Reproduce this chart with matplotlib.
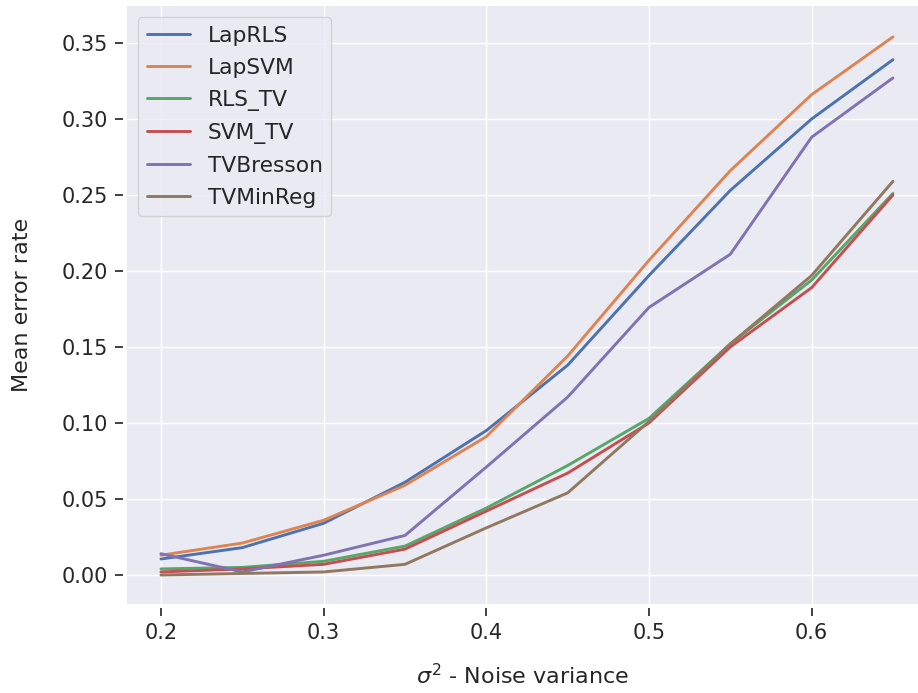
import matplotlib
matplotlib.use("Agg")
import matplotlib.pyplot as plt
import seaborn as sns

sns.set_theme(style="darkgrid")
plt.rcParams['font.family'] = ['DejaVu Sans']

x = [0.2, 0.25, 0.3, 0.35, 0.4, 0.45, 0.5, 0.55, 0.6, 0.65]
lap_rls = [0.0105, 0.018, 0.034, 0.061, 0.095, 0.138, 0.197, 0.253, 0.300, 0.339]
lap_svm = [0.013, 0.021, 0.036, 0.059, 0.091, 0.144, 0.207, 0.266, 0.316, 0.354]
rls_tv = [0.004, 0.005, 0.009, 0.019, 0.044, 0.072, 0.103, 0.152, 0.194, 0.251]
svm_tv = [0.002, 0.004, 0.007, 0.017, 0.042, 0.067, 0.100, 0.150, 0.189, 0.250]
tv_bresson = [0.014, 0.002, 0.013, 0.026, 0.071, 0.117, 0.176, 0.211, 0.288, 0.327]
tv_minreg = [0.000, 0.001, 0.002, 0.007, 0.031, 0.054, 0.101, 0.152, 0.197, 0.259]

series = [("LapRLS", lap_rls), ("LapSVM", lap_svm), ("RLS_TV", rls_tv),
          ("SVM_TV", svm_tv), ("TVBresson", tv_bresson), ("TVMinReg", tv_minreg)]

fig = plt.figure(figsize=(9.18, 6.93), dpi=100)
ax = fig.add_axes([0.1383, 0.1284, 0.8617, 0.8629])
for name, vals in series:
    ax.plot(x, vals, label=name, linewidth=2.1)

ax.set_xlim(0.1791, 0.6654)
ax.set_ylim(-0.0191, 0.3743)
ax.set_xticks([0.2, 0.3, 0.4, 0.5, 0.6])
ax.set_xticklabels(["0.2", "0.3", "0.4", "0.5", "0.6"])
ax.set_yticks([0.0, 0.05, 0.10, 0.15, 0.20, 0.25, 0.30, 0.35])
for s in ax.spines.values():
    s.set_visible(False)
ax.spines['left'].set_position(('outward', 3))
ax.spines['bottom'].set_position(('outward', 3))
ax.tick_params(axis='both', labelsize=15, length=6, width=1.2, color='#222222',
               bottom=True, left=True, pad=5)
ax.set_xlabel(r"$\sigma^2$ - Noise variance", fontsize=16, labelpad=14)
ax.set_ylabel("Mean error rate", fontsize=16, labelpad=21)
ax.legend(loc="upper left", fontsize=15.7, handlelength=2.0, borderaxespad=0.5,
          labelspacing=0.55)

fig.savefig("out.png", dpi=100)
